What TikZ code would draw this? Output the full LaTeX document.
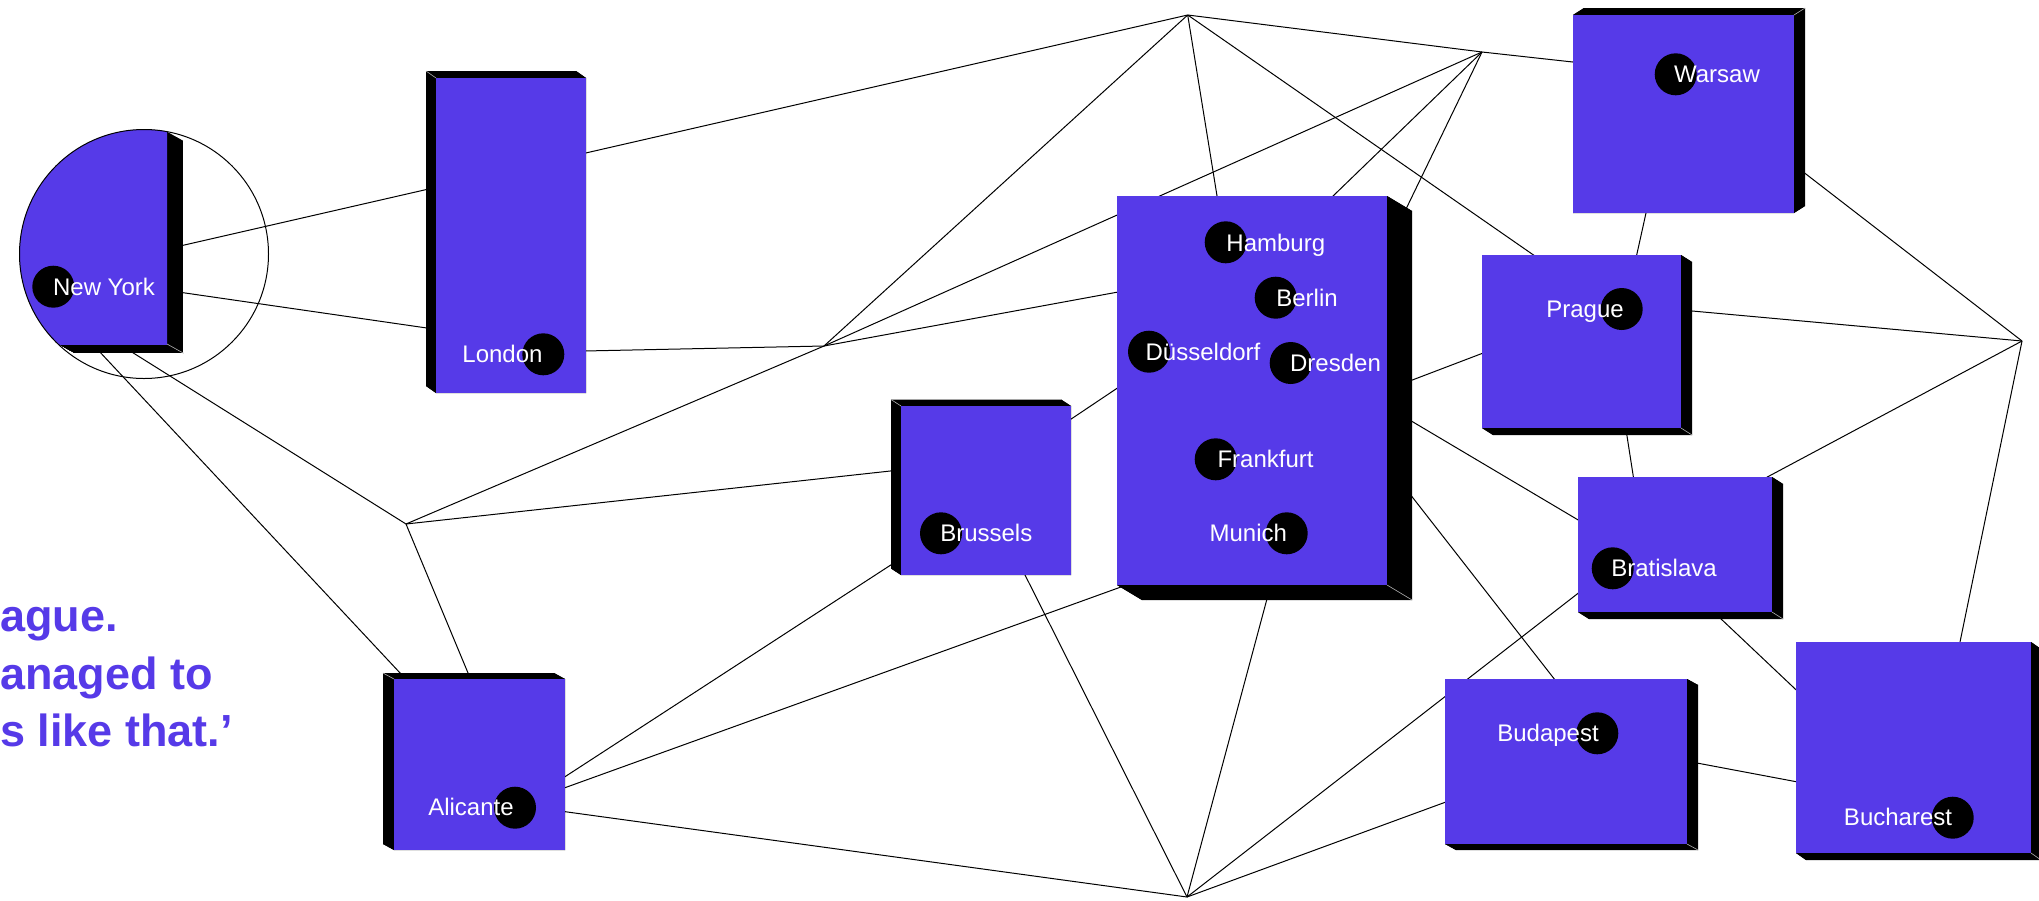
\documentclass[tikz,border=0pt]{standalone}
\usepackage{fontspec}
\setmainfont{Liberation Sans}
\usetikzlibrary{calc}
\definecolor{brand}{RGB}{86,58,232}
\pgfdeclarelayer{bg}
\pgfdeclarelayer{lines}
\pgfdeclarelayer{depth}
\pgfsetlayers{bg,lines,depth,main}
\tikzset{
  citybox/.style={fill=brand, inner sep=0pt, outer sep=0pt, draw=none},
  citydot/.style={circle, fill=black, minimum size=42pt, inner sep=0pt, outer sep=0pt},
  citylabel/.style={text=white, font=\fontsize{24}{28}\selectfont, inner sep=0pt, anchor=base},
  link/.style={line width=1pt, draw=black},
  depthfill/.style={fill=black},
  edgeline/.style={draw=gray!60, line width=0.6pt},
  quoteline/.style={text=brand, font=\fontsize{45}{54}\selectfont\bfseries, inner sep=0pt, anchor=base west},
}
\newcommand\extrudedbox[8]{%
  \node[citybox, minimum width={(#4-#2)*1pt}, minimum height={(#5-#3)*1pt}] (#1) at ({(#2+#4)/2},{(#3+#5)/2}) {};
  \begin{pgfonlayer}{depth}
    \fill[depthfill] ($(#1.north west)+(#6,#7)$) rectangle ($(#1.south east)+(#6,#7)$);
    \fill[depthfill] (#1.north west) -- (#1.north east) -- ($(#1.north east)+(#6,#7)$) -- ($(#1.north west)+(#6,#7)$) -- cycle;
    \fill[depthfill] (#1.north east) -- (#1.south east) -- ($(#1.south east)+(#6,#7)$) -- ($(#1.north east)+(#6,#7)$) -- cycle;
    \fill[depthfill] (#1.south east) -- (#1.south west) -- ($(#1.south west)+(#6,#7)$) -- ($(#1.south east)+(#6,#7)$) -- cycle;
    \fill[depthfill] (#1.south west) -- (#1.north west) -- ($(#1.north west)+(#6,#7)$) -- ($(#1.south west)+(#6,#7)$) -- cycle;
  \end{pgfonlayer}
  \draw[edgeline] (#1.#8) -- ++(#6,#7);
}
\begin{document}
\begin{tikzpicture}[x=1pt,y=-1pt]
\useasboundingbox (0,0) rectangle (2039,900);
\begin{pgfonlayer}{bg}
  \fill[white] (0,0) rectangle (2039,900);
\end{pgfonlayer}

% hubs
\coordinate (t1) at (1187.7,15);
\coordinate (t2) at (1482,52);
\coordinate (m1) at (824,346);
\coordinate (lh) at (406,524);
\coordinate (r1) at (2022,341);
\coordinate (b1) at (1187,897);

% hidden ends inside boxes
\coordinate (nyA) at (170,248.3);
\coordinate (nyB) at (170,290.8);
\coordinate (nyC) at (95.2,347);
\coordinate (nyD) at (130,350.9);
\coordinate (lonA) at (500,338.6);
\coordinate (lonB) at (560,351.5);
\coordinate (aliA) at (420,694.3);
\coordinate (aliB) at (475.1,690);
\coordinate (aliC) at (555,783.2);
\coordinate (aliD) at (550,793.1);
\coordinate (aliE) at (555,810.3);
\coordinate (bruA) at (905,469.4);
\coordinate (bruB) at (1060,426.5);
\coordinate (bruC) at (1020,565);
\coordinate (bruD) at (900,559);
\coordinate (hamA) at (1135,288.9);
\coordinate (hamB) at (1220.1,215);
\coordinate (hamC) at (1320,208.6);
\coordinate (hamD) at (1400.2,221);
\coordinate (hamE) at (1400,384.7);
\coordinate (hamF) at (1400,414.3);
\coordinate (hamG) at (1400,481.3);
\coordinate (hamH) at (1135,581.9);
\coordinate (hamI) at (1269.9,588);
\coordinate (hamJ) at (1130,379.6);
\coordinate (warA) at (1590,63.9);
\coordinate (warB) at (1648.2,203);
\coordinate (warC) at (1795,165.6);
\coordinate (praA) at (1545,263);
\coordinate (praB) at (1495,348.5);
\coordinate (praC) at (1633.8,268);
\coordinate (praD) at (1624.5,420);
\coordinate (praE) at (1680,309.9);
\coordinate (braA) at (1590,527);
\coordinate (braB) at (1590,584);
\coordinate (braC) at (1635.4,490);
\coordinate (braD) at (1710,608.5);
\coordinate (braE) at (1760,480.9);
\coordinate (budA) at (1562,688.9);
\coordinate (budB) at (1460,796.8);
\coordinate (budC) at (1690,761.7);
\coordinate (bucA) at (1810,703);
\coordinate (bucB) at (1810,784.3);
\coordinate (bucC) at (1956.9,657);

\begin{pgfonlayer}{lines}
  \draw[link] (nyA) -- (t1);
  \draw[link] (nyB) -- (lonA);
  \draw[link] (nyC) -- (aliA);
  \draw[link] (nyD) -- (lh);
  \draw[link] (lh) -- (aliB);
  \draw[link] (lh) -- (bruA);
  \draw[link] (lh) -- (m1);
  \draw[link] (lonB) -- (m1);
  \draw[link] (m1) -- (hamA);
  \draw[link] (m1) -- (t1);
  \draw[link] (m1) -- (t2);
  \draw[link] (t1) -- (hamB);
  \draw[link] (t1) -- (t2);
  \draw[link] (t1) -- (praA);
  \draw[link] (t2) -- (warA);
  \draw[link] (t2) -- (hamC);
  \draw[link] (t2) -- (hamD);
  \draw[link] (hamE) -- (praB);
  \draw[link] (hamF) -- (braA);
  \draw[link] (hamG) -- (budA);
  \draw[link] (hamH) -- (aliD);
  \draw[link] (hamI) -- (b1);
  \draw[link] (hamJ) -- (bruB);
  \draw[link] (bruC) -- (b1);
  \draw[link] (bruD) -- (aliC);
  \draw[link] (aliE) -- (b1);
  \draw[link] (budB) -- (b1);
  \draw[link] (braB) -- (b1);
  \draw[link] (warB) -- (praC);
  \draw[link] (praD) -- (braC);
  \draw[link] (braD) -- (bucA);
  \draw[link] (budC) -- (bucB);
  \draw[link] (warC) -- (r1);
  \draw[link] (praE) -- (r1);
  \draw[link] (braE) -- (r1);
  \draw[link] (bucC) -- (r1);
\end{pgfonlayer}

% New York: circle cut by a corner
\begin{pgfonlayer}{depth}
  \foreach \t in {0.05,0.1,...,1.0}{
    \begin{scope}[shift={(16.7*\t,9.3*\t)}]
      \clip (0,0) rectangle (167,344);
      \fill[depthfill] (144,254) circle[radius=124.5];
    \end{scope}
  }
\end{pgfonlayer}
\begin{scope}
  \clip (0,0) rectangle (167,344);
  \fill[brand] (144,254) circle[radius=124.5];
\end{scope}
\node[circle, draw=black, line width=1pt, minimum size=249pt, inner sep=0pt, outer sep=0pt] (nycircle) at (144,254) {};
\draw[edgeline] (167,344) -- ++(16.7,9.3);

% boxes
\extrudedbox{london}{436}{78}{586}{393}{-10}{-7}{north west}
\extrudedbox{germany}{1117}{196}{1387}{585}{25}{15}{south east}
\extrudedbox{warsaw}{1573}{15}{1794}{213}{11}{-7}{north east}
\extrudedbox{prague}{1482}{255}{1681}{428}{11}{7}{south east}
\extrudedbox{brussels}{901}{406}{1071}{575}{-10}{-6.5}{north west}
\extrudedbox{alicante}{394}{679}{565}{850}{-11}{-6}{north west}
\extrudedbox{bratislava}{1578}{477}{1772}{612}{11}{7}{south east}
\extrudedbox{budapest}{1445}{679}{1687}{844}{11}{6}{south east}
\extrudedbox{bucharest}{1796}{642}{2031}{853}{10}{7}{south east}

% dots
\node[citydot] (dny) at (53.3,286.7) {};
\node[citydot] (dlon) at (543.3,354.3) {};
\node[citydot] (dham) at (1225.7,242.3) {};
\node[citydot] (dber) at (1275.7,297.7) {};
\node[citydot] (ddus) at (1149,351.7) {};
\node[citydot] (ddre) at (1290.7,363) {};
\node[citydot] (dfra) at (1215.7,459.3) {};
\node[citydot] (dmun) at (1286.7,533.3) {};
\node[citydot] (dwar) at (1675.7,74.3) {};
\node[citydot] (dpra) at (1621.7,309) {};
\node[citydot] (dbru) at (941,533.3) {};
\node[citydot] (dali) at (515,807.7) {};
\node[citydot] (dbra) at (1612.7,568.3) {};
\node[citydot] (dbud) at (1597.3,733.3) {};
\node[citydot] (dbuc) at (1952.7,817.7) {};

% labels
\node[citylabel] (lny) at (104,295) {New York};
\node[citylabel] (llon) at (502.5,362.7) {London};
\node[citylabel] (lham) at (1275.8,251) {Hamburg};
\node[citylabel] (lber) at (1307,306) {Berlin};
\node[citylabel] (ldus) at (1203,360.7) {Düsseldorf};
\node[citylabel] (ldre) at (1335.5,371.7) {Dresden};
\node[citylabel] (lfra) at (1265.5,467.3) {Frankfurt};
\node[citylabel] (lmun) at (1248.3,541.7) {Munich};
\node[citylabel] (lwar) at (1717,82.3) {Warsaw};
\node[citylabel] (lpra) at (1585,317.7) {Prague};
\node[citylabel] (lbru) at (986.3,541.7) {Brussels};
\node[citylabel] (lali) at (471,815) {Alicante};
\node[citylabel] (lbra) at (1664,576) {Bratislava};
\node[citylabel] (lbud) at (1548,741.7) {Budapest};
\node[citylabel] (lbuc) at (1898,825) {Bucharest};

% quote fragment
\node[quoteline] (q1) at (0,631.7) {ague.};
\node[quoteline] (q2) at (0,689.3) {anaged to};
\node[quoteline] (q3) at (0,746.7) {s like that.’};
\end{tikzpicture}
\end{document}
